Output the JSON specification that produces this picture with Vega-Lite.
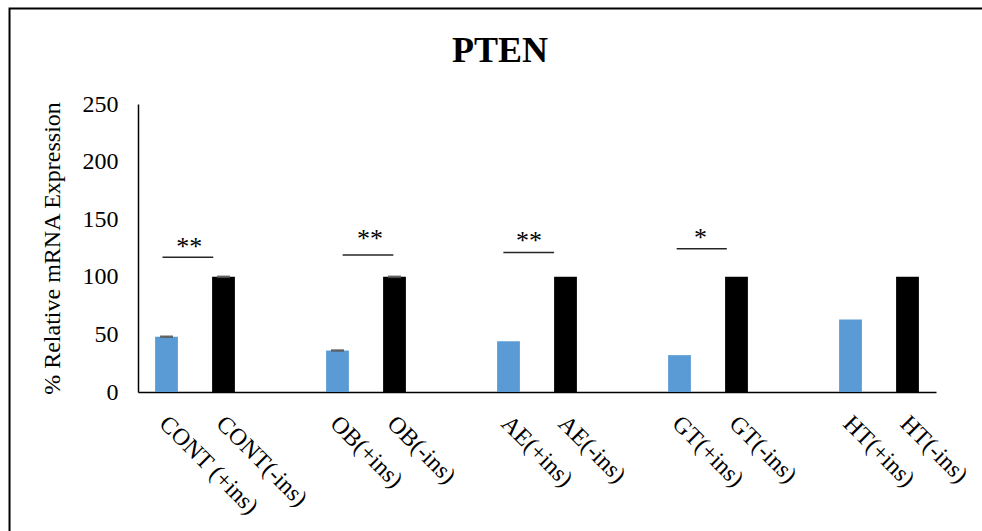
{
  "$schema": "https://vega.github.io/schema/vega-lite/v6.json",
  "autosize": {"type": "none"},
  "padding": {"left": 138, "top": 104, "right": 46, "bottom": 139},
  "width": 798,
  "height": 288,
  "background": "white",
  "config": {
    "font": "Liberation Serif",
    "view": {"stroke": null},
    "axis": {"grid": false, "ticks": false, "domainColor": "black", "domainWidth": 1.5, "labelColor": "black", "titleColor": "black", "titleFontWeight": "normal"}
  },
  "title": {"text": "PTEN", "fontSize": 36, "fontWeight": "bold", "font": "Liberation Serif", "color": "black", "anchor": "middle", "frame": "group", "baseline": "alphabetic", "offset": 0, "dy": 90.5, "dx": -37},
  "datasets": {
    "bars": [
      {"sample": "CONT (+ins)", "treatment": "+ins", "value": 48},
      {"sample": "CONT(-ins)", "treatment": "-ins", "value": 100},
      {"sample": "OB(+ins)", "treatment": "+ins", "value": 36},
      {"sample": "OB(-ins)", "treatment": "-ins", "value": 100},
      {"sample": "AE(+ins)", "treatment": "+ins", "value": 44},
      {"sample": "AE(-ins)", "treatment": "-ins", "value": 100},
      {"sample": "GT(+ins)", "treatment": "+ins", "value": 32},
      {"sample": "GT(-ins)", "treatment": "-ins", "value": 100},
      {"sample": "HT(+ins)", "treatment": "+ins", "value": 63},
      {"sample": "HT(-ins)", "treatment": "-ins", "value": 100}
    ],
    "errors": [
      {"sample": "CONT (+ins)", "value": 48, "err": 0.3},
      {"sample": "CONT(-ins)", "value": 100, "err": 0.3},
      {"sample": "OB(+ins)", "value": 36, "err": 0.3},
      {"sample": "OB(-ins)", "value": 100, "err": 0.3}
    ],
    "sig": [
      {"group": "CONT", "start": 0.43, "end": 1.32, "line": 117, "mid": 0.9, "textY": 119, "stars": "**"},
      {"group": "OB", "start": 3.59, "end": 4.48, "line": 119, "mid": 4.07, "textY": 126, "stars": "**"},
      {"group": "AE", "start": 6.41, "end": 7.3, "line": 121, "mid": 6.86, "textY": 124.5, "stars": "**"},
      {"group": "GT", "start": 9.45, "end": 10.33, "line": 124.4, "mid": 9.87, "textY": 126.7, "stars": "*"}
    ]
  },
  "resolve": {"scale": {"x": "independent"}},
  "layer": [
    {
      "data": {"name": "bars"},
      "mark": {"type": "bar"},
      "encoding": {
        "x": {
          "field": "sample", "type": "nominal", "sort": null,
          "scale": {"domain": ["CONT (+ins)", "CONT(-ins)", " ", "OB(+ins)", "OB(-ins)", "  ", "AE(+ins)", "AE(-ins)", "   ", "GT(+ins)", "GT(-ins)", "    ", "HT(+ins)", "HT(-ins)"], "paddingInner": 0.6, "paddingOuter": 0.3},
          "axis": {"title": null, "labelAngle": 45, "labelFontSize": 24, "labelPadding": 19, "labelOffset": 5, "labelOverlap": false}
        },
        "y": {
          "field": "value", "type": "quantitative", "title": "% Relative mRNA Expression",
          "scale": {"domain": [0, 250], "nice": false},
          "axis": {"title": "% Relative mRNA Expression", "values": [0, 50, 100, 150, 200, 250], "labelFontSize": 24, "labelPadding": 20, "titleFontSize": 24, "titlePadding": 18}
        },
        "color": {
          "field": "treatment", "type": "nominal",
          "scale": {"domain": ["+ins", "-ins"], "range": ["#5B9BD5", "#000000"]},
          "legend": null
        }
      }
    },
    {
      "data": {"name": "errors"},
      "mark": {"type": "errorbar", "ticks": true, "color": "#595959", "thickness": 2, "size": 13},
      "encoding": {
        "x": {
          "field": "sample", "type": "nominal", "sort": null,
          "scale": {"domain": ["CONT (+ins)", "CONT(-ins)", " ", "OB(+ins)", "OB(-ins)", "  ", "AE(+ins)", "AE(-ins)", "   ", "GT(+ins)", "GT(-ins)", "    ", "HT(+ins)", "HT(-ins)"], "paddingInner": 0.6, "paddingOuter": 0.3},
          "axis": null
        },
        "y": {"field": "value", "type": "quantitative", "title": "% Relative mRNA Expression", "scale": {"domain": [0, 250], "nice": false}},
        "yError": {"field": "err"}
      }
    },
    {
      "data": {"name": "sig"},
      "mark": {"type": "rule", "color": "#262626", "strokeWidth": 1.5},
      "encoding": {
        "x": {"field": "start", "type": "quantitative", "scale": {"domain": [0, 14], "nice": false, "zero": false}, "axis": null},
        "x2": {"field": "end"},
        "y": {"field": "line", "type": "quantitative", "title": "% Relative mRNA Expression", "scale": {"domain": [0, 250], "nice": false}}
      }
    },
    {
      "data": {"name": "sig"},
      "mark": {"type": "text", "fontSize": 26, "color": "black", "baseline": "alphabetic", "align": "center"},
      "encoding": {
        "x": {"field": "mid", "type": "quantitative", "scale": {"domain": [0, 14], "nice": false, "zero": false}, "axis": null},
        "y": {"field": "textY", "type": "quantitative", "title": "% Relative mRNA Expression", "scale": {"domain": [0, 250], "nice": false}},
        "text": {"field": "stars"}
      }
    },
    {
      "data": {"values": [{}]},
      "mark": {"type": "rect", "fill": null, "stroke": "black", "strokeWidth": 2},
      "encoding": {
        "x": {"datum": -2.254, "type": "quantitative", "scale": {"domain": [0, 14], "nice": false, "zero": false}, "axis": null},
        "x2": {"datum": 15.2},
        "y": {"datum": 333, "type": "quantitative", "title": "% Relative mRNA Expression", "scale": {"domain": [0, 250], "nice": false}},
        "y2": {"datum": -140}
      }
    }
  ]
}
